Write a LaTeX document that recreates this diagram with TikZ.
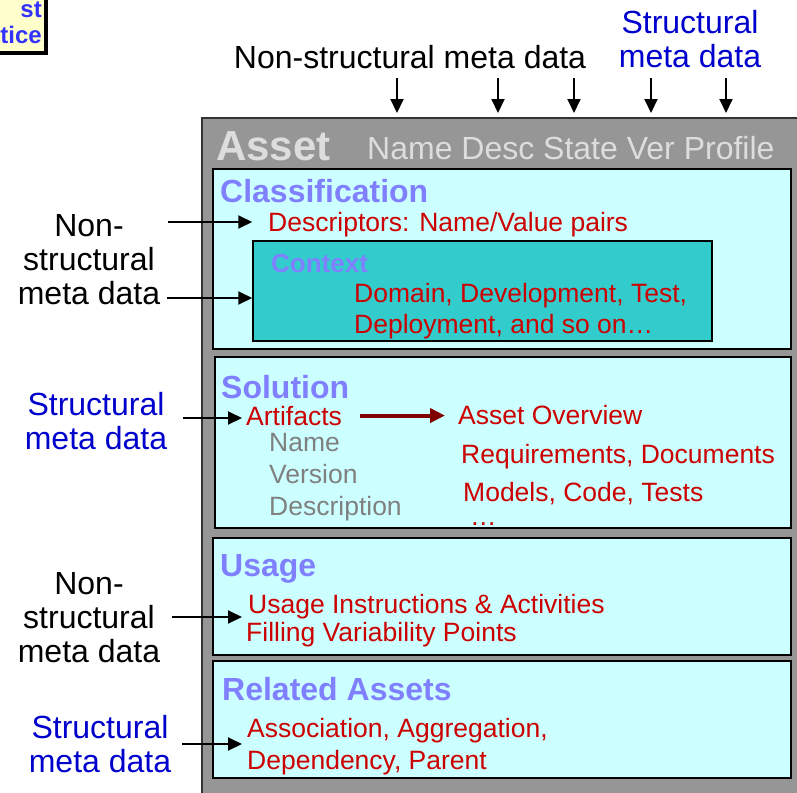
\documentclass[tikz,border=0pt]{standalone}
\usepackage{fontspec}
\setmainfont{Liberation Sans}
\usepackage{xcolor}
\usetikzlibrary{arrows.meta, positioning}

\definecolor{assetgray}{HTML}{969696}
\definecolor{hdgray}{HTML}{DDDDDD}
\definecolor{panelcyan}{HTML}{CCFFFF}
\definecolor{ctxteal}{HTML}{33CCCC}
\definecolor{ttlblue}{HTML}{8080FF}
\definecolor{itemred}{HTML}{CC0000}
\definecolor{attgray}{HTML}{808080}
\definecolor{sideblue}{HTML}{0000CC}
\definecolor{arrowred}{HTML}{800000}
\definecolor{tagyellow}{HTML}{FFFFCC}
\definecolor{tagblue}{HTML}{3333FF}

\begin{document}
\begin{tikzpicture}[x=1pt, y=-1pt, >={Triangle[length=14pt,width=13pt]},
  every node/.style = {inner sep=0pt},
  panel/.style = {draw=black, line width=1.5pt, fill=panelcyan, minimum width=578pt},
  ttl/.style = {anchor=base west, text=ttlblue, font=\bfseries\fontsize{32}{34}\selectfont},
  item/.style = {anchor=base west, text=itemred, font=\fontsize{26.5}{31}\selectfont},
  side/.style = {anchor=north, align=center, font=\fontsize{32}{34}\selectfont},
  tagtxt/.style = {anchor=base east, text=tagblue, font=\bfseries\fontsize{24}{26}\selectfont},
  meta/.style = {->, line width=2pt},
]
\useasboundingbox (0,0) rectangle (797,792);

% tag in the corner
\fill[black] (-20,-20) rectangle (48,55);
\node (tag) [draw=black, line width=1pt, fill=tagyellow, anchor=south east, minimum width=70pt, minimum height=75pt] at (45,52) {};
\node (tagA) [tagtxt] at (42,18) {st};
\node (tagB) [tagtxt] at (42,44) {tice};

% asset box
\node (asset) [draw=black!80, line width=2pt, fill=assetgray, anchor=north west, minimum width=620pt, minimum height=700pt] at (201,117) {};
\node (assetT) [anchor=base west, text=hdgray, font=\bfseries\fontsize{42}{44}\selectfont] at (216,160) {Asset};
\node (header) [anchor=base west, text=hdgray, font=\fontsize{32}{34}\selectfont] at (367,159) {Name Desc State Ver Profile};

\node (classif) [panel, minimum height=180pt] at (502,259) {};
\node (context) [draw=black, line width=1.5pt, fill=ctxteal, minimum width=459pt, minimum height=100pt] at (482.5,291) {};
\node (solution) [panel, minimum width=576pt, minimum height=171pt] at (503,442.5) {};
\node (usage) [panel, minimum height=117pt] at (502,596.5) {};
\node (related) [panel, minimum height=117pt] at (502,719.5) {};

% classification
\node (classT) [ttl] at (220,202) {Classification};
\node (desc) [item] at (268,231) {Descriptors: Name/Value pairs};
\node (ctxT) [ttl, font=\bfseries\fontsize{26}{30}\selectfont] at (271,272) {Context};
\node (ctxA) [item] at (354,302) {Domain, Development, Test,};
\node (ctxB) [item] at (354,333) {Deployment, and so on…};

% solution
\node (solT) [ttl] at (221,398) {Solution};
\node (artif) [item] at (246,425) {Artifacts};
\node (artName) [item, text=attgray] at (269,451) {Name};
\node (artVer) [item, text=attgray] at (269,483) {Version};
\node (artDesc) [item, text=attgray] at (269,515) {Description};
\node (overview) [item] at (458,424) {Asset Overview};
\node (reqs) [item] at (461,463) {Requirements, Documents};
\node (models) [item] at (463,501) {Models, Code, Tests};
\node (more) [item] at (470,525) {…};
\draw[->, line width=4pt, arrowred, >={Triangle[length=15pt,width=14pt]}, shorten <=18pt, shorten >=13pt] (artif.east) -- (overview.west |- artif.east);

% usage
\node (usageT) [ttl] at (220,576) {Usage};
\node (instr) [item] at (248,613) {Usage Instructions \& Activities};
\node (filling) [item] at (246,641) {Filling Variability Points};

% related assets
\node (relT) [ttl] at (222,700) {Related Assets};
\node (assoc) [item] at (247,737) {Association, Aggregation,};
\node (dep) [item] at (247,769) {Dependency, Parent};

% meta data labels
\node (nsTop) [anchor=base, font=\fontsize{32}{34}\selectfont] at (410,69) {Non-structural meta data};
\node (stTop) [side, text=sideblue] at (690,10) {Structural\\meta data};
\node (nsA) [side] at (89,214) {Non-\\structural\\meta data};
\node (stA) [side, text=sideblue] at (96,392) {Structural\\meta data};
\node (nsB) [side] at (89,572) {Non-\\structural\\meta data};
\node (stB) [side, text=sideblue] at (100,715) {Structural\\meta data};

% arrows
\foreach \k/\x in {1/397, 2/498, 3/574, 4/651, 5/726} {
  \coordinate (down\k) at (\x,78);
  \draw[meta, shorten >=4pt] (down\k) -- (down\k |- asset.north);
}
\coordinate (nsA1) at (168,222);
\coordinate (nsA2) at (167,298);
\coordinate (stA1) at (183,418);
\coordinate (nsB1) at (172,617);
\coordinate (stB1) at (182,744);
\draw[meta] (nsA1) -- (context.west |- nsA1);
\draw[meta] (nsA2) -- (context.west |- nsA2);
\draw[meta, shorten >=4pt] (stA1) -- (artif.west |- stA1);
\draw[meta, shorten >=4pt] (nsB1) -- (filling.west |- nsB1);
\draw[meta, shorten >=5pt] (stB1) -- (assoc.west |- stB1);
\end{tikzpicture}
\end{document}
